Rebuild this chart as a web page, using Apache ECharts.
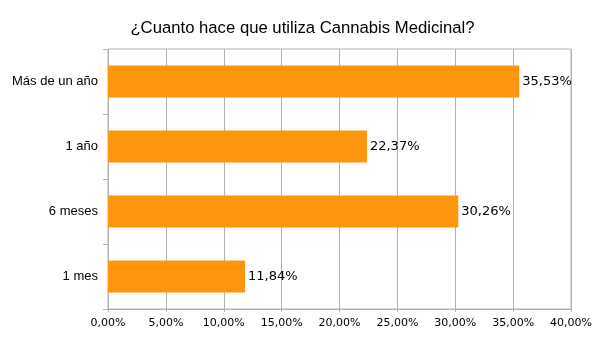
<!DOCTYPE html>
<html>
<head>
<meta charset="utf-8">
<script src="https://cdn.jsdelivr.net/npm/echarts@6/dist/echarts.min.js"></script>
<style>
  html, body { margin: 0; padding: 0; background: #ffffff; }
  #chart { width: 605px; height: 340px; }
</style>
</head>
<body>
<div id="chart"></div>
<script>
// Survey: time using medicinal cannabis (percent of respondents)
const titleText = '¿Cuanto hace que utiliza Cannabis Medicinal?';
const categories = ['Más de un año', '1 año', '6 meses', '1 mes'];
const percentages = [35.53, 22.37, 30.26, 11.84];
const axisMin = 0;
const axisMax = 40;
const axisStep = 5;

const gridColor = '#b3b3b3';
const barColor = '#ff950e';

// Spanish-style number formatting: decimal comma
function pct(v) {
  return v.toFixed(2).replace('.', ',') + '%';
}

const chart = echarts.init(document.getElementById('chart'), null, { renderer: 'canvas' });

chart.setOption({
  animation: false,
  backgroundColor: '#ffffff',
  title: {
    text: titleText,
    left: 'center',
    top: 15,
    textStyle: {
      fontFamily: 'Liberation Sans',
      fontSize: 16.7,
      fontWeight: 'normal',
      color: '#000000'
    }
  },
  grid: {
    left: 108,
    right: 34,
    top: 49,
    bottom: 31,
    show: true,
    borderColor: gridColor,
    borderWidth: 1,
    containLabel: false
  },
  xAxis: {
    type: 'value',
    min: axisMin,
    max: axisMax,
    interval: axisStep,
    axisLine: { show: true, lineStyle: { color: gridColor, width: 1 } },
    axisTick: { show: true, length: 3, lineStyle: { color: gridColor, width: 1 } },
    splitLine: { show: true, lineStyle: { color: gridColor, width: 1 } },
    axisLabel: {
      margin: 9,
      fontFamily: 'DejaVu Sans',
      fontSize: 11,
      color: '#000000',
      formatter: pct
    }
  },
  yAxis: {
    type: 'category',
    data: categories,
    inverse: true,
    axisLine: { show: true, lineStyle: { color: gridColor, width: 1 } },
    axisTick: {
      show: true,
      length: 5,
      alignWithLabel: false,
      lineStyle: { color: gridColor, width: 1 }
    },
    splitLine: { show: false },
    axisLabel: {
      margin: 10,
      fontFamily: 'Liberation Sans',
      fontSize: 13,
      color: '#000000'
    }
  },
  series: [{
    type: 'bar',
    data: percentages,
    barWidth: 32,
    itemStyle: { color: barColor },
    label: {
      show: true,
      position: 'right',
      distance: 3,
      fontFamily: 'DejaVu Sans',
      fontSize: 13,
      color: '#000000',
      formatter: p => pct(p.value)
    }
  }]
});
</script>
</body>
</html>
